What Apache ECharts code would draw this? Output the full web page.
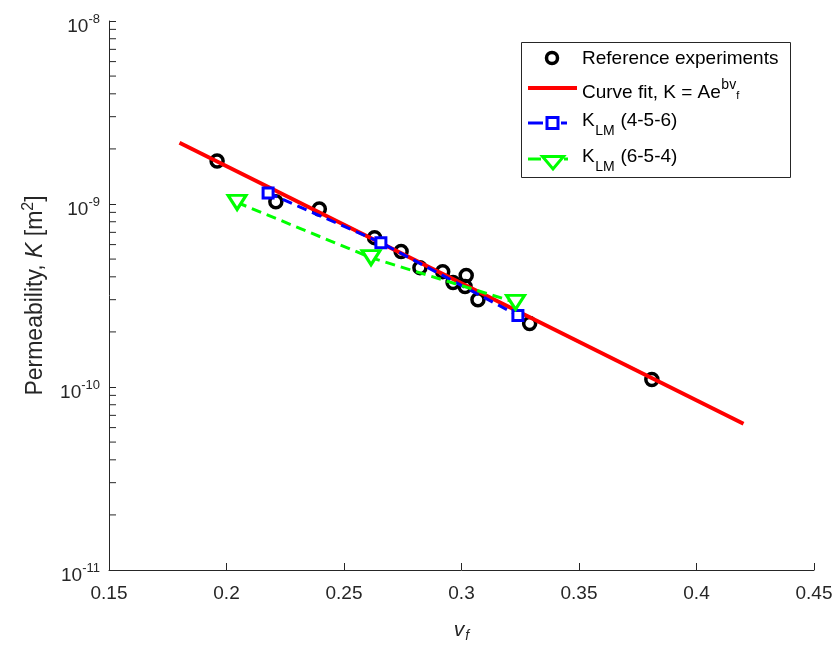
<!DOCTYPE html>
<html><head><meta charset="utf-8">
<script src="https://cdn.jsdelivr.net/npm/echarts@6/dist/echarts.min.js"></script>
<style>html,body{margin:0;padding:0;background:#fff}#c{width:834px;height:646px}</style>
</head><body><div id="c"></div>
<script>
// Reference experiments
const expVf = [0.196, 0.221, 0.2395, 0.263, 0.2743, 0.2823, 0.292, 0.2964, 0.302, 0.3015, 0.307, 0.329, 0.381];
const expK  = [1.72e-9, 1.03e-9, 9.4e-10, 6.55e-10, 5.5e-10, 4.49e-10, 4.27e-10, 3.72e-10, 4.07e-10, 3.54e-10, 3.0e-10, 2.22e-10, 1.10e-10];
// Curve fit end points (straight line on log axis)
const fitVf = [0.18, 0.42];
const fitK  = [2.16e-9, 6.3e-11];
// K_LM (4-5-6)
const lm456Vf = [0.2177, 0.2657, 0.324];
const lm456K  = [1.15e-9, 6.15e-10, 2.46e-10];
// K_LM (6-5-4)
const lm654Vf = [0.2045, 0.2615, 0.323];
const lm654K  = [1.02e-9, 5.09e-10, 2.9e-10];
// axis
const xTicks = [0.15, 0.2, 0.25, 0.3, 0.35, 0.4, 0.45];
const yMin = 1e-11, yMax = 1e-8;
const minorY = [];
for (let e = -11; e < -8; e++) for (let m = 2; m <= 9; m++) minorY.push(m * Math.pow(10, e));

const zip = (a, b) => a.map((v, i) => [v, b[i]]);
const FAM = '"Liberation Sans", Arial, Helvetica, sans-serif';
const TC = '#262626';

// text measurement for legend layout
const mctx = document.createElement('canvas').getContext('2d');
function fnt(size, italic) { return (italic ? 'italic ' : '') + size + 'px ' + FAM; }
function tw(str, size, italic) { mctx.font = fnt(size, italic); return mctx.measureText(str).width; }
function txt(str, x, y, size, italic) {
  return { type: 'text', x: x, y: y, z: 101,
    style: { text: str, font: fnt(size, italic), fill: '#000', textAlign: 'left', textVerticalAlign: 'middle', align: 'left', verticalAlign: 'middle' } };
}
function seg(x1, y1, x2, y2, color, w) {
  return { type: 'line', z: 101, shape: { x1: x1, y1: y1, x2: x2, y2: y2 }, style: { stroke: color, lineWidth: w } };
}

const LX = 582; // legend text start
const legendEls = [];
legendEls.push({ type: 'rect', z: 100, shape: { x: 521.5, y: 42.5, width: 269, height: 135 },
  style: { fill: '#fff', stroke: TC, lineWidth: 1 } });
// entry 1
legendEls.push({ type: 'circle', z: 101, shape: { cx: 552, cy: 58, r: 5.5 }, style: { fill: null, stroke: '#000', lineWidth: 3.5 } });
legendEls.push(txt('Reference experiments', LX, 59, 19));
// entry 2
legendEls.push(seg(528, 88, 577, 88, '#FF0000', 4));
const t2 = 'Curve fit, K = Ae';
legendEls.push(txt(t2, LX, 93, 19));
const w2 = tw(t2, 19);
legendEls.push(txt('bv', LX + w2 + 0.5, 85, 14));
legendEls.push(txt('f', LX + w2 + 0.5 + tw('bv', 14), 96, 11));
// entry 3
legendEls.push(seg(528, 123, 543, 123, '#0000FF', 3));
legendEls.push(seg(561, 123, 567, 123, '#0000FF', 3));
legendEls.push({ type: 'rect', z: 101, shape: { x: 547, y: 117.5, width: 11, height: 11 }, style: { fill: '#fff', stroke: '#0000FF', lineWidth: 3 } });
const wK = tw('K', 19), wLM = tw('LM', 14);
legendEls.push(txt('K', LX, 121, 19));
legendEls.push(txt('LM', LX + wK + 0.5, 131.5, 14));
legendEls.push(txt(' (4-5-6)', LX + wK + wLM + 1, 121, 19));
// entry 4
legendEls.push(seg(528, 159, 541, 159, '#00FF00', 3));
legendEls.push(seg(564, 159, 568, 159, '#00FF00', 3));
legendEls.push({ type: 'polygon', z: 101, shape: { points: [[542.5, 156.5], [563.5, 156.5], [553, 169]] }, style: { fill: '#fff', stroke: '#00FF00', lineWidth: 3, lineJoin: 'miter' } });
legendEls.push(txt('K', LX, 157, 19));
legendEls.push(txt('LM', LX + wK + 0.5, 167.5, 14));
legendEls.push(txt(' (6-5-4)', LX + wK + wLM + 1, 157, 19));

const chart = echarts.init(document.getElementById('c'));
chart.setOption({
  animation: false,
  textStyle: { fontFamily: FAM },
  grid: { left: 109, top: 21, right: 20, bottom: 76, containLabel: false, outerBoundsMode: 'none' },
  xAxis: {
    type: 'value', min: xTicks[0], max: xTicks[xTicks.length - 1], interval: 0.05,
    axisLine: { lineStyle: { color: TC, width: 1 } },
    axisTick: { inside: true, length: 7, lineStyle: { color: TC } },
    splitLine: { show: false },
    axisLabel: { color: TC, fontSize: 19, margin: 14, fontFamily: FAM,
      formatter: v => String(+v.toFixed(2)) },
    name: '{i|v}{sub|f}', nameLocation: 'middle', nameGap: 47,
    nameTextStyle: { color: TC, fontFamily: FAM,
      rich: { i: { fontSize: 21, fontStyle: 'italic', color: TC, fontFamily: FAM },
              sub: { fontSize: 14, fontStyle: 'italic', color: TC, fontFamily: FAM, verticalAlign: 'bottom', padding: [12, 0, 0, 1] } } }
  },
  yAxis: {
    type: 'log', logBase: 10, min: yMin, max: yMax,
    axisLine: { lineStyle: { color: TC, width: 1 } },
    axisTick: { inside: true, length: 7, lineStyle: { color: TC } },
    splitLine: { show: false },
    axisLabel: { color: TC, fontSize: 19, margin: 9, fontFamily: FAM,
      formatter: v => '{b|10}{s|' + Math.round(Math.log10(v)) + '}',
      rich: { b: { fontSize: 19, color: TC, fontFamily: FAM, verticalAlign: 'bottom', padding: [11, 0, 0, 0] },
              s: { fontSize: 13, color: TC, fontFamily: FAM, verticalAlign: 'top', padding: [7, 0, 0, 0] } } },
    name: '{n|Permeability, }{i|K}{n| [m}{s|2}{n|]}', nameLocation: 'middle', nameGap: 62, nameRotate: 90,
    nameTextStyle: { color: TC, fontFamily: FAM,
      rich: { n: { fontSize: 23, color: TC, fontFamily: FAM, verticalAlign: 'bottom' },
              i: { fontSize: 23, fontStyle: 'italic', color: TC, fontFamily: FAM, verticalAlign: 'bottom' },
              s: { fontSize: 16, color: TC, fontFamily: FAM, verticalAlign: 'top', padding: [0, 0, 10, 0] } } }
  },
  graphic: legendEls,
  series: [
    {
      name: 'Reference experiments', type: 'scatter', z: 2,
      data: zip(expVf, expK), symbol: 'circle', symbolSize: 12,
      itemStyle: { color: 'rgba(0,0,0,0)', borderColor: '#000', borderWidth: 3.5, opacity: 1 }
    },
    {
      name: 'Curve fit', type: 'line', z: 3, data: zip(fitVf, fitK),
      symbol: 'none', showSymbol: false,
      lineStyle: { color: '#FF0000', width: 4 }, itemStyle: { color: '#FF0000' }
    },
    {
      name: 'LM456', type: 'line', z: 4, data: zip(lm456Vf, lm456K),
      symbol: 'rect', symbolSize: 10, showSymbol: true,
      lineStyle: { color: '#0000FF', width: 3, type: [10, 6] },
      itemStyle: { color: '#fff', borderColor: '#0000FF', borderWidth: 3, opacity: 1 }
    },
    {
      name: 'LM654', type: 'line', z: 4, data: zip(lm654Vf, lm654K),
      symbol: 'triangle', symbolRotate: 180, symbolSize: [18, 14], showSymbol: true,
      lineStyle: { color: '#00FF00', width: 3, type: [10, 6] },
      itemStyle: { color: '#fff', borderColor: '#00FF00', borderWidth: 3, opacity: 1 }
    },
    {
      name: 'minorTicks', type: 'custom', silent: true, z: 1,
      data: minorY.map(v => [xTicks[0], v]),
      renderItem: function (params, api) {
        const p = api.coord([api.value(0), api.value(1)]);
        return { type: 'line', shape: { x1: p[0], y1: p[1], x2: p[0] + 7, y2: p[1] },
                 style: { stroke: TC, lineWidth: 1 } };
      }
    }
  ]
});
</script></body></html>
